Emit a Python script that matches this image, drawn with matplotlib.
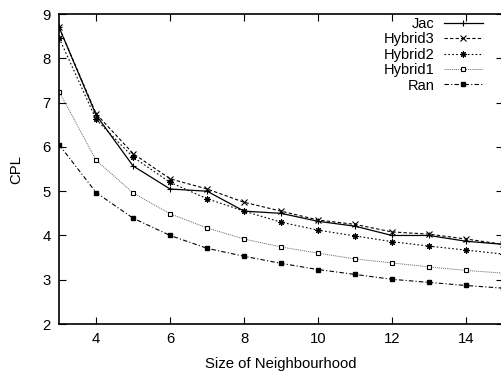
import matplotlib
matplotlib.use('Agg')
import matplotlib.pyplot as plt

plt.rcParams['font.family'] = ['Liberation Sans', 'DejaVu Sans']

# Neighbourhood sizes and CPL values
sizes = [3, 4, 5, 6, 7, 8, 9, 10, 11, 12, 13, 14, 15]
jac = [8.70, 6.72, 5.57, 5.05, 5.00, 4.55, 4.50, 4.32, 4.21, 4.00, 4.00, 3.87, 3.80]
hybrid3 = [8.70, 6.75, 5.85, 5.28, 5.05, 4.75, 4.55, 4.35, 4.25, 4.08, 4.03, 3.92, 3.80]
hybrid2 = [8.46, 6.62, 5.77, 5.20, 4.83, 4.55, 4.30, 4.12, 3.99, 3.86, 3.76, 3.67, 3.58]
hybrid1 = [7.25, 5.70, 4.96, 4.49, 4.17, 3.92, 3.74, 3.60, 3.47, 3.38, 3.29, 3.21, 3.15]
ran = [6.05, 4.97, 4.39, 4.00, 3.71, 3.53, 3.37, 3.23, 3.12, 3.01, 2.94, 2.87, 2.81]

fig = plt.figure(figsize=(5.01, 3.72), dpi=100)
ax = fig.add_axes([0.118, 0.129, 0.886, 0.833])

ax.plot(sizes, jac, color='black', linestyle='-', linewidth=0.9,
        marker='+', markersize=5, markeredgewidth=0.8, label='Jac')
ax.plot(sizes, hybrid3, color='black', linestyle=(0, (3, 2)), linewidth=0.8,
        marker='x', markersize=4, markeredgewidth=0.8, label='Hybrid3')
ax.plot(sizes, hybrid2, color='black', linestyle=(0, (1.5, 2)), linewidth=0.8,
        marker=(8, 2, 0), markersize=4.5, markeredgewidth=0.8, label='Hybrid2')
ax.plot(sizes, hybrid1, color='#666666', linestyle=(0, (1, 1)), linewidth=0.7,
        marker='s', markersize=3.5, markerfacecolor='white', markeredgecolor='black',
        markeredgewidth=0.8, label='Hybrid1')
ax.plot(sizes, ran, color='black', linestyle=(0, (4, 2, 1, 2)), linewidth=0.8,
        marker='s', markersize=3.5, markerfacecolor='black', markeredgecolor='black',
        label='Ran')

ax.set_xlim(3, 15)
ax.set_ylim(2, 9)
ax.set_xticks([4, 6, 8, 10, 12, 14])
ax.set_yticks([2, 3, 4, 5, 6, 7, 8, 9])
ax.tick_params(direction='in', top=True, right=True, length=5, width=0.8,
               labelsize=10.7, pad=6)
for s in ax.spines.values():
    s.set_linewidth(1.2)

ax.set_xlabel('Size of Neighbourhood', fontsize=10.7, labelpad=8)
ax.set_ylabel('CPL', fontsize=10.7, labelpad=14)

fig.legend(loc='upper right', bbox_to_anchor=(0.964, 0.955),
           bbox_transform=fig.transFigure, frameon=False, markerfirst=False,
           fontsize=10.5, handlelength=2.7, handletextpad=0.6,
           labelspacing=0.1, borderpad=0, borderaxespad=0)

fig.savefig('out.png', dpi=100)
